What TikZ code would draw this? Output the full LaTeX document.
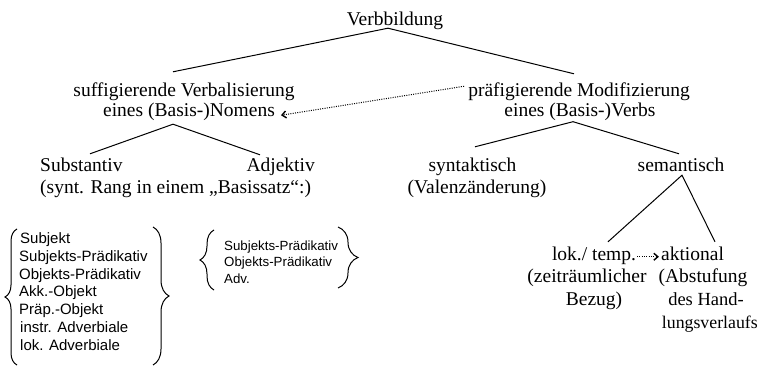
\documentclass[tikz,border=0pt]{standalone}
\usepackage{fontspec}
\setmainfont{Liberation Serif}
\setsansfont{Liberation Sans}
\usetikzlibrary{arrows.meta,decorations.pathreplacing}
\tikzset{
  lbl/.style={font=\fontsize{19.5}{22}\selectfont, inner sep=0pt, text height=14pt, text depth=4.5pt, anchor=base},
  itm/.style={font=\sffamily\fontsize{15}{17}\selectfont, inner sep=0pt, anchor=base west},
  itmr/.style={font=\sffamily\fontsize{13.3}{15}\selectfont, inner sep=0pt, anchor=base west},
  tree/.style={line width=1pt},
  dotarrow/.style={line width=1pt, dash pattern=on 1pt off 1.3pt, -{Straight Barb[length=4pt,width=7pt,line width=1.4pt]}},
  brc/.style={line width=1pt, decorate},
}
\begin{document}
\begin{tikzpicture}[x=1pt,y=-1pt]
\path[use as bounding box] (0,0) rectangle (760,366);

% level 0 / 1
\node[lbl] (V) at (395,26) {Verbbildung};
\node[lbl] (s1) at (184,97) {suffigierende Verbalisierung};
\node[lbl] (s2) at (189,117) {eines (Basis-)Nomens};
\node[lbl] (p1) at (579,97) {präfigierende Modifizierung};
\node[lbl] (p2) at (580,117) {eines (Basis-)Verbs};

% level 2 left
\node[lbl, anchor=base west] (sub) at (40,172) {Substantiv};
\node[lbl, anchor=base east] (adj) at (315,172) {Adjektiv};
\node[lbl, anchor=base west] (rang) at (40,194) {(synt. Rang in einem „Basissatz“:)};

% level 2 right
\node[lbl] (syn) at (472.5,172) {syntaktisch};
\node[lbl] (val) at (477,194) {(Valenzänderung)};
\node[lbl] (sem) at (681,172) {semantisch};

% level 3
\node[lbl] (lok) at (594,260) {lok./ temp.};
\node[lbl] (akt) at (692.5,260) {aktional};
\node[lbl] (zeit) at (587,282) {(zeiträumlicher};
\node[lbl] (bez) at (594,305) {Bezug)};
\node[lbl] (abst) at (703,282) {(Abstufung};
\node[lbl, font=\fontsize{18.5}{22}\selectfont] (hand) at (706,305) {des Hand-};
\node[lbl, font=\fontsize{17.8}{22}\selectfont, anchor=base east] (verl) at (758,328) {lungsverlaufs};

% tree lines
\draw[tree] ([xshift=-11pt,yshift=11pt]s1.north) -- ([xshift=-7pt,yshift=2.5pt]V.south) -- ([xshift=-5pt,yshift=9pt]p1.north);
\draw[tree] ([xshift=50pt,yshift=4pt]sub.north west) -- ([xshift=-16pt,yshift=-2.5pt]s2.south) -- ([xshift=-55pt,yshift=3pt]adj.north east);
\draw[tree] ([xshift=2.5pt,yshift=11pt]syn.north) -- ([xshift=-7pt]p2.south) -- ([xshift=-2pt,yshift=4pt]sem.north);
\draw[tree] ([xshift=14pt,yshift=4pt]lok.north) -- ([xshift=1pt,yshift=1.5pt]sem.south) -- ([xshift=22.5pt,yshift=4pt]akt.north);

% dotted arrows
\draw[dotarrow] ([xshift=-4pt,yshift=6pt]p1.west) -- ([xshift=6pt,yshift=-3pt]s2.east);
\draw[dotarrow] ([xshift=1pt,yshift=-1.5pt]lok.east) -- ([xshift=-2pt,yshift=-1.5pt]akt.west);

% brace lists
\node[itm] (i1) at (20,243.8) {Subjekt};
\node[itm] (i2) at (19,261.5) {Subjekts-Prädikativ};
\node[itm] (i3) at (19,279.2) {Objekts-Prädikativ};
\node[itm] (i4) at (19,296.9) {Akk.-Objekt};
\node[itm] (i5) at (19,314.6) {Präp.-Objekt};
\node[itm] (i6) at (20,332.3) {instr. Adverbiale};
\node[itm] (i7) at (20,350) {lok. Adverbiale};

\node[itmr] (j1) at (224,250) {Subjekts-Prädikativ};
\node[itmr] (j2) at (224,266.5) {Objekts-Prädikativ};
\node[itmr] (j3) at (224,283) {Adv.};

\draw[brc, decoration={brace,amplitude=12pt}] (17,365) -- (17,229);
\draw[brc, decoration={brace,amplitude=16pt}] (153,227) -- (153,365);
\draw[brc, decoration={brace,amplitude=14pt}] (214,290) -- (214,230);
\draw[brc, decoration={brace,amplitude=20pt}] (338,227) -- (338,288);
\end{tikzpicture}
\end{document}
